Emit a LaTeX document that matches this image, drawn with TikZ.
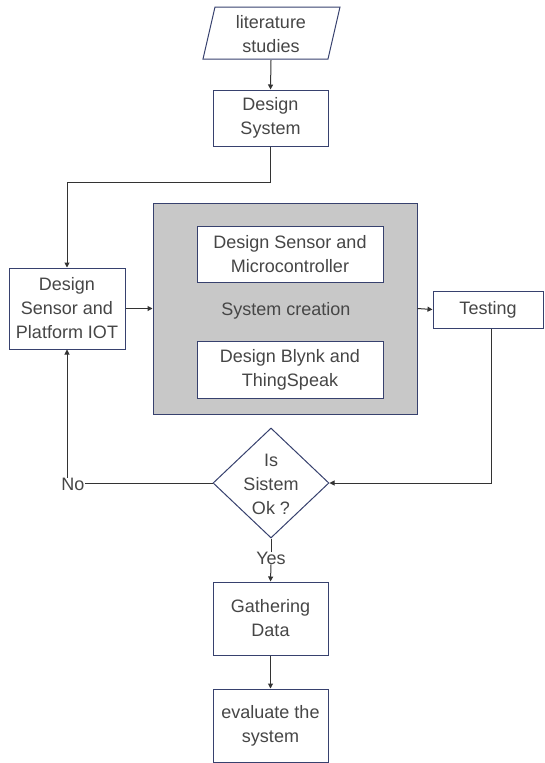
\documentclass[tikz,border=0pt]{standalone}
\usepackage{fontspec}
\setmainfont{Liberation Sans}
\usetikzlibrary{shapes.geometric,arrows.meta}
\definecolor{edge}{RGB}{55,65,110}
\definecolor{txt}{RGB}{70,70,70}
\definecolor{fillgray}{RGB}{200,200,200}
\tikzset{
  box/.style={draw=edge, line width=1pt, fill=white, inner sep=0pt, align=center, text=txt},
  plain/.style={inner sep=0pt, align=center, text=txt},
  arr/.style={draw=black!80, line width=1pt, -{Triangle[length=5pt,width=5pt]}},
  ln/.style={draw=black!80, line width=1pt},
}
\begin{document}
\begin{tikzpicture}[x=1pt,y=-1pt,font=\fontsize{18}{24}\selectfont]
\useasboundingbox (0,0) rectangle (544,763);
% parallelogram
\draw[draw=edge, line width=1pt, fill=white] (215,7) -- (340,7) -- (328,59) -- (203,59) -- cycle;
\node[plain, minimum width=115pt, minimum height=52pt] (lit) at (271,34) {literature\\studies};
\node[box, minimum width=115pt, minimum height=56pt] (ds) at (270.5,118) {Design\\System};
\node[box, minimum width=116pt, minimum height=81pt] (dsp) at (67,308.5) {Design\\Sensor and\\Platform IOT};
\node[box, fill=fillgray, minimum width=264pt, minimum height=211pt] (sc) at (285,308.5) {};
\node[plain] (sclabel) at (286,311) {System creation};
\node[box, minimum width=186pt, minimum height=56pt] (m1) at (290,254) {Design Sensor and\\Microcontroller};
\node[box, minimum width=186pt, minimum height=57pt] (m2) at (290,369.5) {Design Blynk and\\ThingSpeak};
\node[box, minimum width=110pt, minimum height=37pt] (test) at (488,309.5) {Testing};
\node[box, diamond, aspect=1.05, minimum width=116pt, minimum height=110pt] (dia) at (271,483) {};
\node[plain] (dialabel) at (271,484) {Is\\Sistem\\Ok ?};
\node[plain, fill=white] (no) at (73,484) {No};
\node[plain, fill=white] (yes) at (271,558) {Yes};
\node[box, minimum width=115pt, minimum height=73pt] (gd) at (270.5,618.5) {Gathering\\Data};
\node[box, minimum width=115pt, minimum height=73pt] (ev) at (270.5,725.5) {evaluate the\\system};
% connectors
\draw[arr] (lit.south) -- (ds.north);
\draw[arr] (ds.south) -- ++(0,36) -| (dsp.north);
\draw[arr] (dsp.east) -- (sc.west);
\draw[arr] (sc.east) -- (test.west);
\draw[arr] ([xshift=3pt]test.south) |- (dia.east);
\draw[ln] (dia.west) -- (dia.west -| no.east);
\draw[arr] (no.north -| dsp.south) -- (dsp.south);
\draw[ln] (dia.south) -- (yes.north);
\draw[arr] (yes.south) -- (gd.north);
\draw[arr] (gd.south) -- (ev.north);
\end{tikzpicture}
\end{document}
